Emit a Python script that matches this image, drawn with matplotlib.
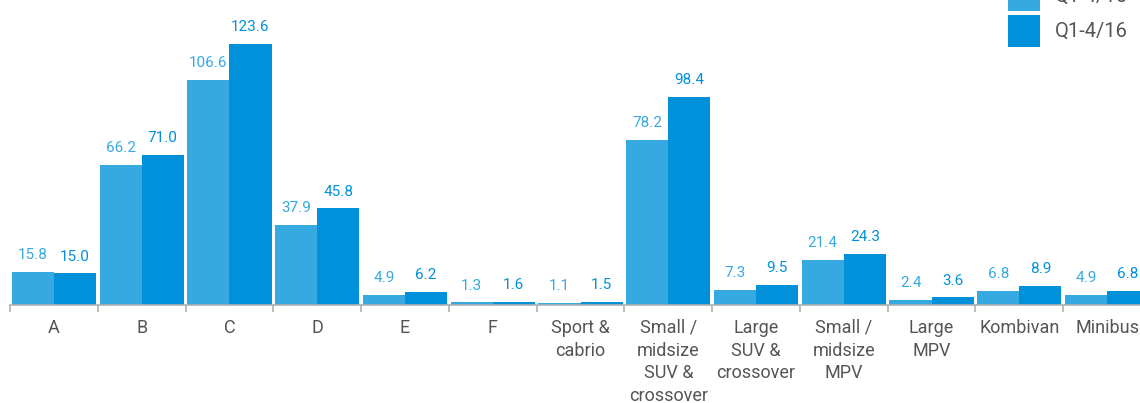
"""Segment volumes Q1-4/15 vs Q1-4/16, grouped bars."""

import matplotlib
matplotlib.use("Agg")
import matplotlib.pyplot as plt
import numpy as np

categories = ["A", "B", "C", "D", "E", "F", "Sport &\ncabrio",
              "Small /\nmidsize\nSUV &\ncrossover", "Large\nSUV &\ncrossover",
              "Small /\nmidsize\nMPV", "Large\nMPV", "Kombivan", "Minibus"]
q15 = [15.8, 66.2, 106.6, 37.9, 4.9, 1.3, 1.1, 78.2, 7.3, 21.4, 2.4, 6.8, 4.9]
q16 = [15.0, 71.0, 123.6, 45.8, 6.2, 1.6, 1.5, 98.4, 9.5, 24.3, 3.6, 8.9, 6.8]
series_names = ["Q1-4/15", "Q1-4/16"]

LIGHT = "#36a9e1"
DARK = "#0091da"
GREY = "#555555"
LABEL_FONT = ["Liberation Sans Narrow", "Roboto", "DejaVu Sans"]

fig = plt.figure(figsize=(11.4, 4.03), dpi=100)
# axes runs slightly past the right edge, like the cropped original
ax = fig.add_axes([10 / 1140, 98 / 403, 1141 / 1140, 295.7 / 403])

x = np.arange(len(categories))
w = 0.48
b1 = ax.bar(x - w / 2, q15, width=w, color=LIGHT, label=series_names[0])
b2 = ax.bar(x + w / 2, q16, width=w, color=DARK, label=series_names[1])

ax.bar_label(b1, labels=[f"{v:.1f}" for v in q15], padding=7,
             color=LIGHT, fontsize=11, family=LABEL_FONT)
ax.bar_label(b2, labels=[f"{v:.1f}" for v in q16], padding=7,
             color=DARK, fontsize=11, family=LABEL_FONT)

ax.set_xlim(-0.5, len(categories) - 0.5)
ax.set_ylim(0, 140)
ax.set_yticks([])
for s in ("top", "right", "left"):
    ax.spines[s].set_visible(False)
ax.spines["bottom"].set_color("#b0b0b0")
ax.spines["bottom"].set_linewidth(1.2)

# ticks at group boundaries, labels centred under groups
ax.set_xticks(np.arange(len(categories) + 1) - 0.5)
ax.set_xticklabels([])
ax.tick_params(axis="x", direction="out", length=5, width=1.2, color="#b0b0b0")
ax.set_xticks(x, minor=True)
ax.set_xticklabels(categories, minor=True, fontsize=13, color=GREY,
                   family="Roboto", linespacing=1.33)
ax.tick_params(axis="x", which="minor", length=0, pad=10)

fig.legend(handles=[b1, b2], labels=series_names, loc="upper left",
           bbox_to_anchor=(1008 / 1140, (403 + 21) / 403), frameon=False,
           handlelength=1.59, handleheight=2.06,
           labelspacing=0.2, handletextpad=0.75, borderpad=0, borderaxespad=0,
           labelcolor=GREY, prop={"family": "Roboto", "size": 14.5})

fig.savefig("out.png", dpi=100)
